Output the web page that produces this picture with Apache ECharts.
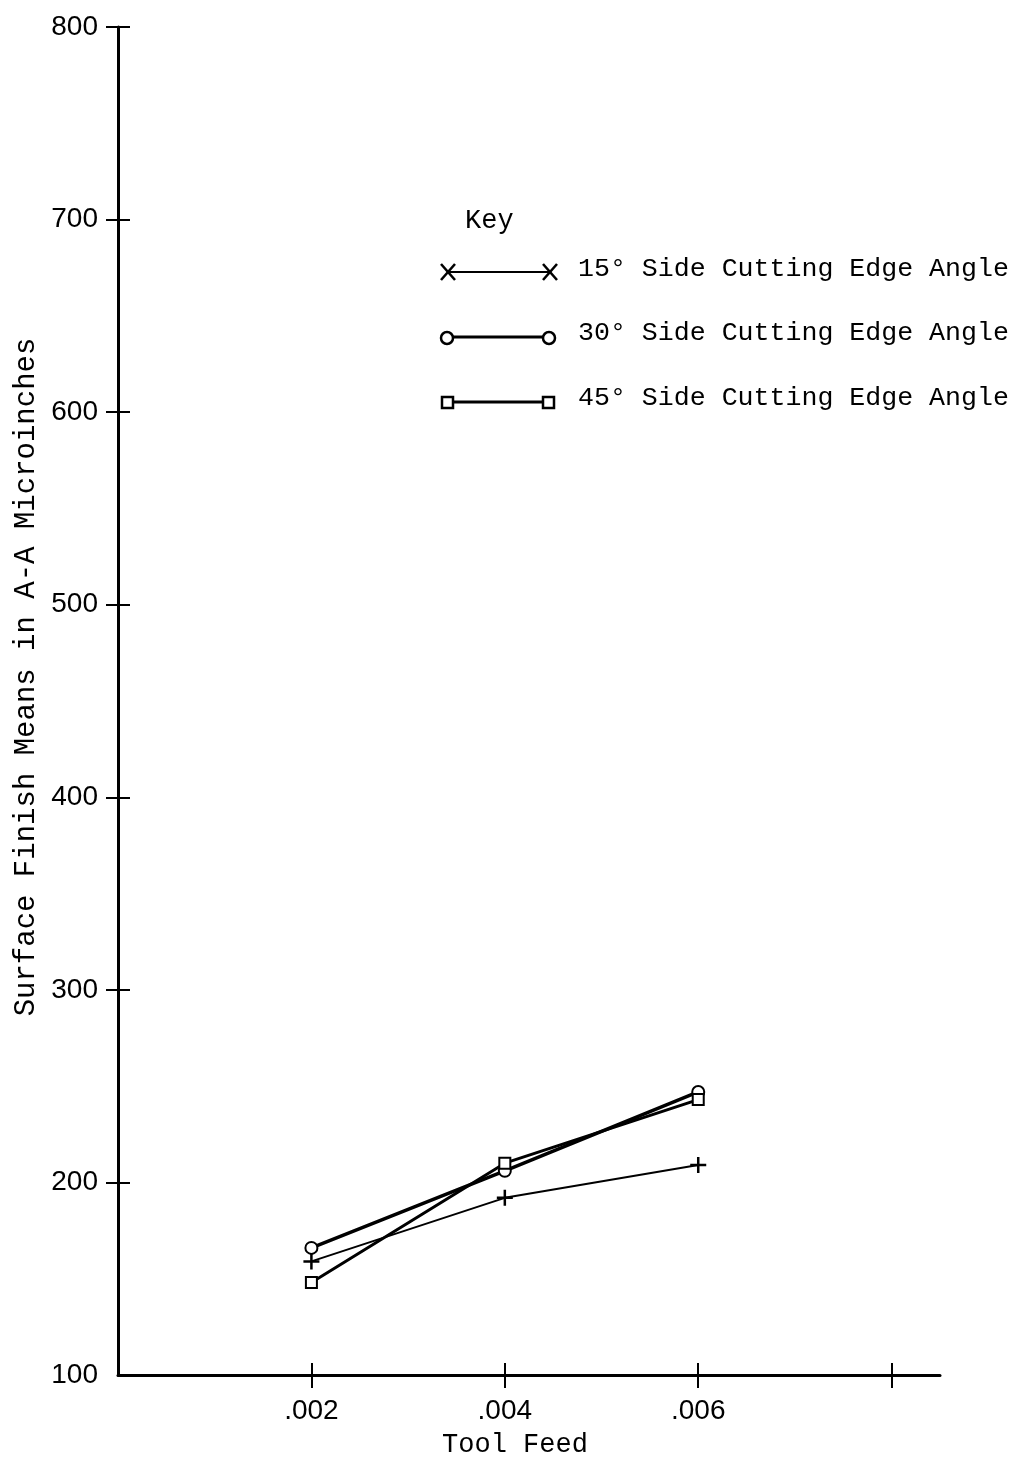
<!DOCTYPE html>
<html>
<head>
<meta charset="utf-8">
<script src="https://cdn.jsdelivr.net/npm/echarts@6/dist/echarts.min.js"></script>
<style>
html,body{margin:0;padding:0;background:#fff;}
#chart{width:1017px;height:1463px;}
</style>
</head>
<body>
<div id="chart"></div>
<script>
const feeds = [0.002, 0.004, 0.006];
const xTickValues = [0.002, 0.004, 0.006, 0.008];
const xLabelValues = [0.002, 0.004, 0.006];
const yTickValues = [200, 300, 400, 500, 600, 700, 800];
const seriesNames = ['15° Side Cutting Edge Angle', '30° Side Cutting Edge Angle', '45° Side Cutting Edge Angle'];
const deg15 = [159, 192, 209];
const deg30 = [166, 206, 247];
const deg45 = [148, 210, 243];

const MONO = '"Liberation Mono", "DejaVu Sans Mono", monospace';
const SANS = '"Liberation Sans", "DejaVu Sans", sans-serif';

const chart = echarts.init(document.getElementById('chart'), null, {renderer: 'canvas'});

function pairs(vals) { return feeds.map((f, i) => [f, vals[i]]); }
const plusPath = 'path://M0,-8 L0,8 M-8,0 L8,0';

const xBase = {
  type: 'value', min: 0, max: 0.0085, interval: 0.002,
  splitLine: {show: false}
};
const yBase = {
  type: 'value', min: 100, max: 800, interval: 100,
  splitLine: {show: false}
};

function xMark(cx, cy) {
  return [
    {type: 'line', shape: {x1: cx - 7, y1: cy - 8, x2: cx + 7, y2: cy + 8}, style: {stroke: '#000', lineWidth: 2.5}},
    {type: 'line', shape: {x1: cx + 7, y1: cy - 8, x2: cx - 7, y2: cy + 8}, style: {stroke: '#000', lineWidth: 2.5}}
  ];
}

const option = {
  backgroundColor: '#fff',
  animation: false,
  grid: {left: 118, top: 27, right: 77, bottom: 88, containLabel: false},
  xAxis: [
    Object.assign({}, xBase, {
      position: 'bottom',
      name: 'Tool Feed', nameLocation: 'middle', nameGap: 56,
      nameTextStyle: {fontFamily: MONO, fontSize: 27, color: '#000', padding: [0, 28, 0, 0]},
      axisLine: {show: true, onZero: false, lineStyle: {color: '#000', width: 3}},
      axisTick: {show: true, length: 13, lineStyle: {color: '#000', width: 2}, customValues: xTickValues},
      axisLabel: {show: true, margin: 22, fontFamily: SANS, fontSize: 28, color: '#000',
        customValues: xLabelValues,
        formatter: v => '.' + v.toFixed(3).split('.')[1]}
    }),
    Object.assign({}, xBase, {
      position: 'bottom',
      axisLine: {show: false},
      axisTick: {show: true, inside: true, length: 12, lineStyle: {color: '#000', width: 2}, customValues: xTickValues},
      axisLabel: {show: false}
    })
  ],
  yAxis: [
    Object.assign({}, yBase, {
      position: 'left',
      name: 'Surface Finish Means in A-A Microinches', nameLocation: 'middle', nameGap: 75,
      nameTextStyle: {fontFamily: MONO, fontSize: 29, color: '#000', padding: [0, 0, 0, 48]},
      axisLine: {show: true, onZero: false, lineStyle: {color: '#000', width: 3}},
      axisTick: {show: true, length: 12, lineStyle: {color: '#000', width: 2}, customValues: yTickValues},
      axisLabel: {show: true, margin: 20, fontFamily: SANS, fontSize: 28, color: '#000'}
    }),
    Object.assign({}, yBase, {
      position: 'left',
      axisLine: {show: false},
      axisTick: {show: true, inside: true, length: 12, lineStyle: {color: '#000', width: 2}, customValues: yTickValues},
      axisLabel: {show: false}
    })
  ],
  series: [
    {
      name: seriesNames[0], type: 'line', data: pairs(deg15),
      symbol: plusPath, symbolSize: 16, showAllSymbol: true,
      lineStyle: {color: '#000', width: 2},
      itemStyle: {color: '#000', borderColor: '#000', borderWidth: 2.5}
    },
    {
      name: seriesNames[1], type: 'line', data: pairs(deg30),
      symbol: 'emptyCircle', symbolSize: 12,
      lineStyle: {color: '#000', width: 3.5},
      itemStyle: {color: '#000', borderWidth: 2.5}
    },
    {
      name: seriesNames[2], type: 'line', data: pairs(deg45),
      symbol: 'emptyRect', symbolSize: 11,
      lineStyle: {color: '#000', width: 3},
      itemStyle: {color: '#000', borderWidth: 2.5}
    }
  ],
  graphic: [].concat(
    [
      {type: 'text', left: 465, top: 207, style: {text: 'Key', font: '27px ' + MONO, fill: '#000'}},
      {type: 'line', shape: {x1: 447, y1: 272, x2: 549, y2: 272}, style: {stroke: '#000', lineWidth: 2}}
    ],
    xMark(448, 272),
    xMark(550, 272),
    [
      {type: 'text', left: 578, top: 255, style: {text: seriesNames[0], font: '26.6px ' + MONO, fill: '#000'}},
      {type: 'line', shape: {x1: 447, y1: 337, x2: 549, y2: 337}, style: {stroke: '#000', lineWidth: 3}},
      {type: 'circle', shape: {cx: 447, cy: 338, r: 6}, style: {stroke: '#000', lineWidth: 2.5, fill: '#fff'}},
      {type: 'circle', shape: {cx: 549, cy: 338, r: 6}, style: {stroke: '#000', lineWidth: 2.5, fill: '#fff'}},
      {type: 'text', left: 578, top: 319, style: {text: seriesNames[1], font: '26.6px ' + MONO, fill: '#000'}},
      {type: 'line', shape: {x1: 447, y1: 402, x2: 549, y2: 402}, style: {stroke: '#000', lineWidth: 3}},
      {type: 'rect', shape: {x: 442, y: 397, width: 11, height: 11}, style: {stroke: '#000', lineWidth: 2.5, fill: '#fff'}},
      {type: 'rect', shape: {x: 543, y: 397, width: 11, height: 11}, style: {stroke: '#000', lineWidth: 2.5, fill: '#fff'}},
      {type: 'text', left: 578, top: 384, style: {text: seriesNames[2], font: '26.6px ' + MONO, fill: '#000'}}
    ]
  )
};
chart.setOption(option);
</script>
</body>
</html>
